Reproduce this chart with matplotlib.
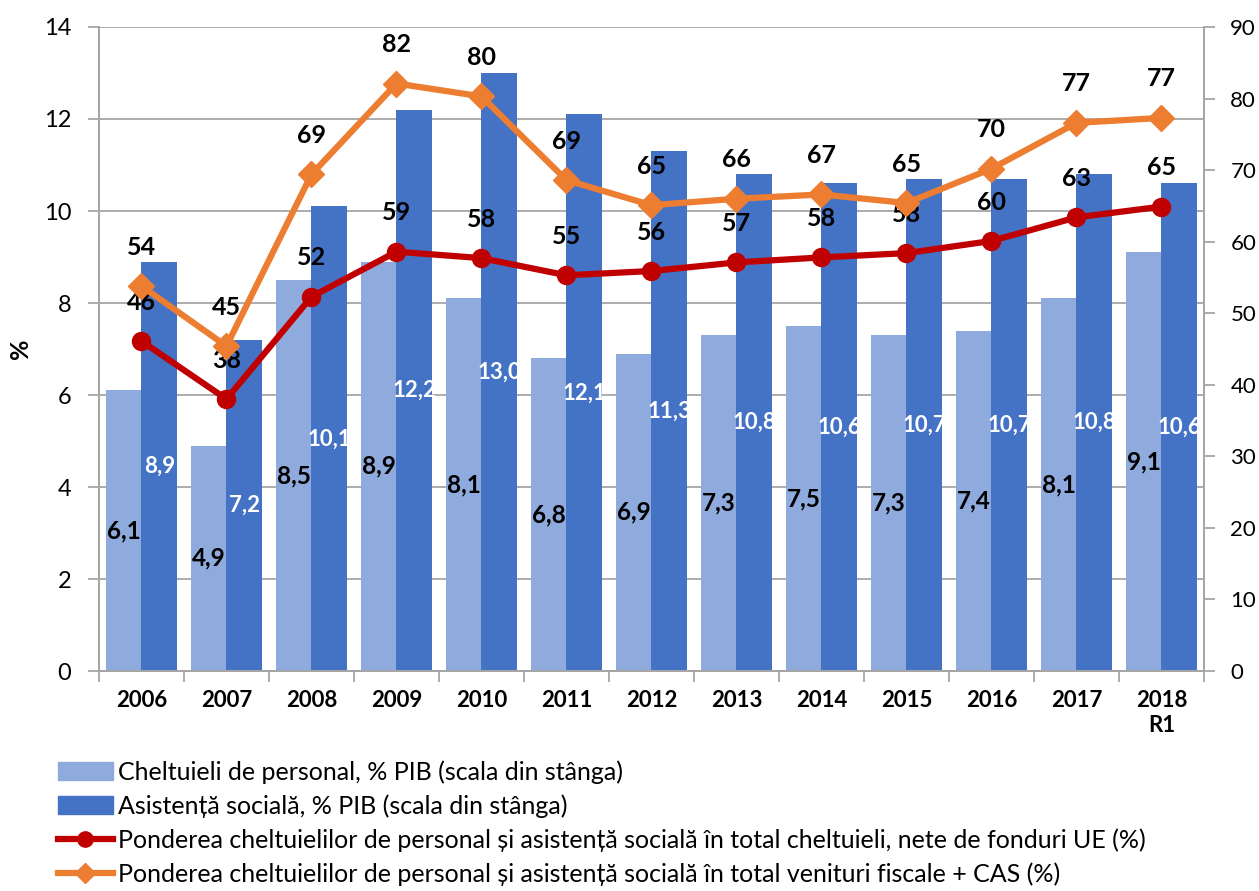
import numpy as np
import matplotlib
matplotlib.use("Agg")
from matplotlib import pyplot as plt
from matplotlib.patches import Patch
from matplotlib.lines import Line2D

plt.rcParams['font.family'] = ['Lato', 'DejaVu Sans']

years = ['2006', '2007', '2008', '2009', '2010', '2011', '2012', '2013',
         '2014', '2015', '2016', '2017', '2018\nR1']
personal = [6.1, 4.9, 8.5, 8.9, 8.1, 6.8, 6.9, 7.3, 7.5, 7.3, 7.4, 8.1, 9.1]
asistenta = [8.9, 7.2, 10.1, 12.2, 13.0, 12.1, 11.3, 10.8, 10.6, 10.7, 10.7, 10.8, 10.6]
pond_chelt = [46.1, 38.0, 52.3, 58.6, 57.7, 55.3, 55.9, 57.1, 57.8, 58.4, 60.1, 63.4, 64.9]
pond_venit = [53.8, 45.4, 69.4, 82.1, 80.3, 68.6, 65.1, 66.0, 66.6, 65.4, 70.2, 76.6, 77.3]

legend_labels = [
    'Cheltuieli de personal, % PIB (scala din stânga)',
    'Asistență socială, % PIB (scala din stânga)',
    'Ponderea cheltuielilor de personal și asistență socială în total cheltuieli, nete de fonduri UE (%)',
    'Ponderea cheltuielilor de personal și asistență socială în total venituri fiscale + CAS (%)',
]

c_light = '#8FAADC'
c_dark = '#4472C4'
c_red = '#C00000'
c_orange = '#ED7D31'
c_grid = '#A6A6A6'

fig = plt.figure(figsize=(12.59, 8.91), dpi=100)
ax = fig.add_axes([0.0786, 0.2469, 0.8777, 0.7228])
ax2 = ax.twinx()

x = np.arange(len(years))
w = 0.42
ax.bar(x - w/2, personal, w, color=c_light, zorder=2)
ax.bar(x + w/2, asistenta, w, color=c_dark, zorder=2)

for xi, v in zip(x, personal):
    ax.text(xi - w/2, v/2, f'{v:.1f}'.replace('.', ','), ha='center', va='center',
            fontsize=17.5, fontweight='bold', color='black', zorder=3)
for xi, v in zip(x, asistenta):
    ax.text(xi + w/2, v/2, f'{v:.1f}'.replace('.', ','), ha='center', va='center',
            fontsize=16, fontweight='bold', color='white', zorder=3)

ax.set_xlim(-0.5, len(years) - 0.5)
ax.set_ylim(0, 14)
ax.set_yticks(np.arange(0, 15, 2))
ax.yaxis.grid(True, color=c_grid, lw=1.3)
ax.set_axisbelow(True)

ax.set_xticks(np.arange(-0.5, len(years), 1))
ax.set_xticklabels([])
ax.set_xticks(x, minor=True)
ax.set_xticklabels(years, minor=True, fontsize=16, fontweight='bold')
ax.tick_params(axis='x', which='major', length=8, width=1.3, color=c_grid)
ax.tick_params(axis='x', which='minor', length=0, pad=14)
ax.tick_params(axis='y', length=8, width=1.3, color=c_grid, labelsize=17, pad=12)
fig.text(0.016, 0.609, '%', rotation=90, ha='center', va='center',
         fontsize=18, fontweight='bold')

ax2.plot(x, pond_venit, color=c_orange, lw=4.5, marker='D', ms=13, zorder=4)
ax2.plot(x, pond_chelt, color=c_red, lw=4.5, marker='o', ms=13, zorder=5)
for xi, v in zip(x, pond_venit):
    ax2.annotate(f'{v:.0f}', (xi, v), xytext=(0, 28), textcoords='offset points',
                 ha='center', va='center', fontsize=18, fontweight='bold')
for xi, v in zip(x, pond_chelt):
    ax2.annotate(f'{v:.0f}', (xi, v), xytext=(0, 28), textcoords='offset points',
                 ha='center', va='center', fontsize=18, fontweight='bold')
ax2.set_ylim(0, 90)
ax2.set_yticks(np.arange(0, 91, 10))
ax2.tick_params(axis='y', length=8, width=1.3, color=c_grid, labelsize=16, pad=11)

for a in (ax, ax2):
    a.spines['top'].set_visible(False)
    for s in ('left', 'right', 'bottom'):
        a.spines[s].set_color(c_grid)
        a.spines[s].set_linewidth(1.3)

handles = [
    Patch(color=c_light),
    Patch(color=c_dark),
    Line2D([], [], color=c_red, lw=4.5, marker='o', ms=11),
    Line2D([], [], color=c_orange, lw=4.5, marker='D', ms=10),
]
fig.legend(handles, legend_labels, loc='upper left', bbox_to_anchor=(0.046, 0.147),
           frameon=False, fontsize=18, handlelength=2.2, handletextpad=0.2,
           labelspacing=0.42, borderaxespad=0, borderpad=0)

fig.savefig('out.png', dpi=100)
